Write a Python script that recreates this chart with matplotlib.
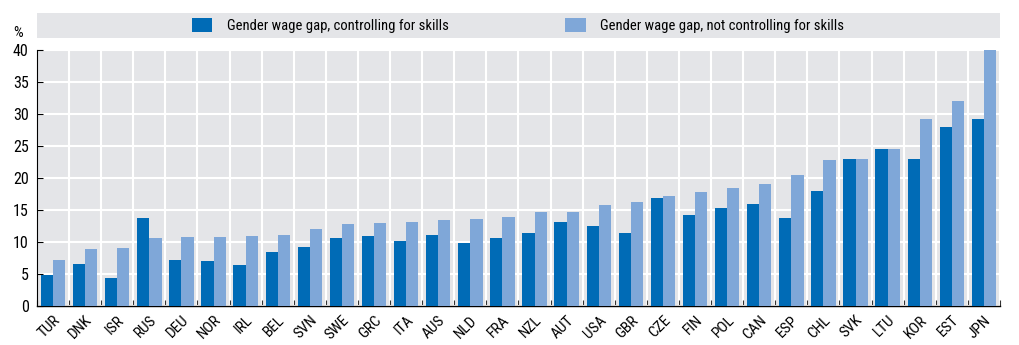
import matplotlib
matplotlib.use("Agg")
import matplotlib.pyplot as plt
import numpy as np
from matplotlib.patches import Rectangle
from matplotlib.ticker import MultipleLocator

plt.rcParams['font.family'] = ['Liberation Sans Narrow', 'Roboto Condensed', 'Roboto', 'DejaVu Sans']

countries = ["TUR", "DNK", "ISR", "RUS", "DEU", "NOR", "IRL", "BEL", "SVN", "SWE",
             "GRC", "ITA", "AUS", "NLD", "FRA", "NZL", "AUT", "USA", "GBR", "CZE",
             "FIN", "POL", "CAN", "ESP", "CHL", "SVK", "LTU", "KOR", "EST", "JPN"]
controlling = [4.8, 6.6, 4.4, 13.75, 7.2, 7.1, 6.4, 8.4, 9.15, 10.7,
               11.0, 10.2, 11.1, 9.8, 10.7, 11.45, 13.1, 12.5, 11.45, 16.9,
               14.2, 15.3, 15.95, 13.75, 18.0, 23.0, 24.5, 22.9, 27.9, 29.2]
not_controlling = [7.2, 8.9, 9.0, 10.6, 10.8, 10.8, 11.0, 11.1, 12.1, 12.8,
                   13.0, 13.1, 13.5, 13.6, 13.9, 14.7, 14.75, 15.8, 16.2, 17.15,
                   17.8, 18.4, 19.0, 20.5, 22.85, 23.0, 24.6, 29.3, 32.1, 40.0]
labels = ["Gender wage gap, controlling for skills",
          "Gender wage gap, not controlling for skills"]

dark = "#006bb6"
light = "#7fa7d8"
bg = "#e4e5e8"

fig = plt.figure(figsize=(10.19, 3.45), dpi=100)
ax = fig.add_axes([0.0363, 0.113, 0.945, 0.742])

x = np.arange(len(countries))
w = 0.38
b1 = ax.bar(x - w / 2, controlling, w, color=dark, label=labels[0], zorder=3)
b2 = ax.bar(x + w / 2, not_controlling, w, color=light, label=labels[1], zorder=3)

ax.set_facecolor(bg)
ax.set_xlim(-0.5, len(countries) - 0.5)
ax.set_ylim(0, 40)
ax.yaxis.set_major_locator(MultipleLocator(5))
ax.set_xticks(x)
ax.set_xticklabels(countries, rotation=45, ha='right', rotation_mode='anchor', fontsize=11)
ax.set_xticks(np.arange(-0.5, len(countries), 1), minor=True)
ax.tick_params(axis='x', which='major', length=0, pad=5)
ax.tick_params(axis='x', which='minor', direction='in', length=4, width=0.8, color='#333333')
ax.tick_params(axis='y', direction='in', length=4, width=0.8, labelsize=11.5, pad=6)
ax.grid(axis='y', color='white', lw=1.5, zorder=0)
ax.grid(axis='x', which='minor', color='white', lw=1.5, zorder=0)
for s in ['top', 'right']:
    ax.spines[s].set_visible(False)
ax.spines['left'].set_linewidth(0.8)
ax.spines['bottom'].set_linewidth(1.0)

# legend band
fig.patches.append(Rectangle((0.0363, 0.89), 0.945, 0.072, transform=fig.transFigure,
                             facecolor=bg, edgecolor='none', zorder=0))
fig.legend(handles=[b1, b2], labels=labels, loc='center', bbox_to_anchor=(0.5085, 0.926),
           ncol=2, frameon=False, fontsize=10.5, handlelength=1.4, handleheight=1.1,
           handletextpad=1.0, columnspacing=8.0)

fig.text(0.018, 0.905, "%", fontsize=11, ha='center', va='center')

fig.savefig("out.png", dpi=100)
